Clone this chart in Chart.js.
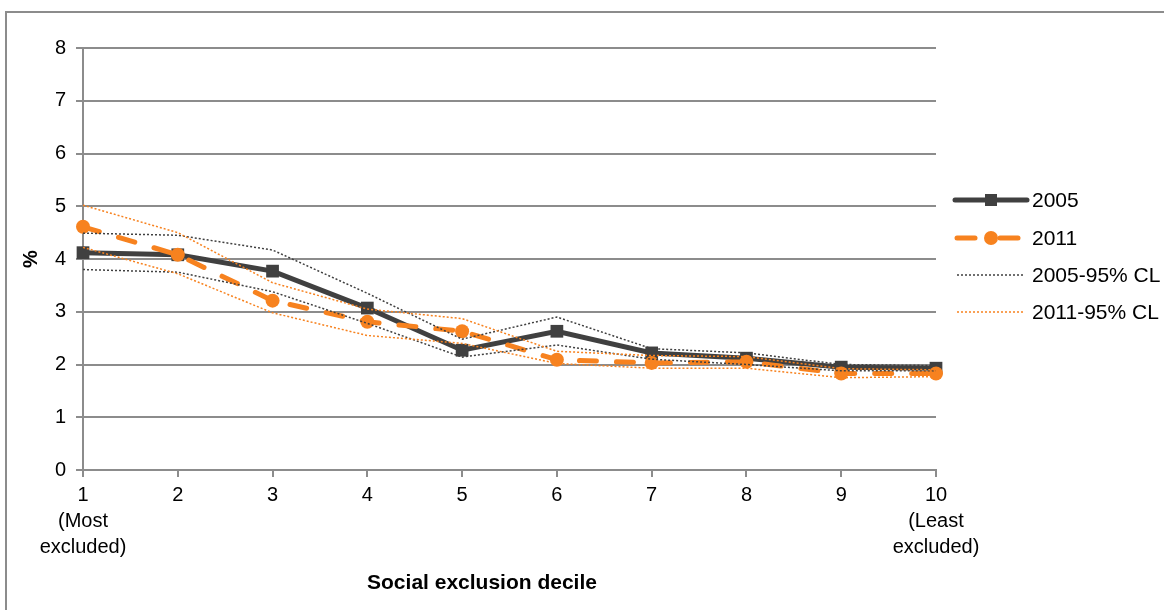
<!DOCTYPE html>
<html>
<head>
<meta charset="utf-8">
<script src="https://cdn.jsdelivr.net/npm/chart.js@4/dist/chart.umd.min.js"></script>
<style>
  html, body { margin: 0; padding: 0; background: #fff; }
  #wrap { width: 1164px; height: 610px; position: relative; }
</style>
</head>
<body>
<div id="wrap"><canvas id="chart" width="1164" height="610"></canvas></div>
<script>
const deciles = [
  ['1', '(Most', 'excluded)'], '2', '3', '4', '5', '6', '7', '8', '9',
  ['10', '(Least', 'excluded)']
];

const rate2005  = [4.12, 4.08, 3.77, 3.07, 2.27, 2.63, 2.22, 2.12, 1.95, 1.93];
const rate2011  = [4.61, 4.08, 3.21, 2.81, 2.63, 2.09, 2.03, 2.05, 1.83, 1.83];
const upper2005 = [4.49, 4.45, 4.17, 3.35, 2.48, 2.9, 2.3, 2.22, 2.0, 1.98];
const lower2005 = [3.8, 3.75, 3.38, 2.78, 2.14, 2.37, 2.1, 2.0, 1.88, 1.88];
const upper2011 = [5.02, 4.5, 3.55, 3.05, 2.87, 2.25, 2.17, 2.15, 1.92, 1.9];
const lower2011 = [4.22, 3.72, 2.98, 2.55, 2.4, 2.02, 1.93, 1.93, 1.75, 1.77];

const yTicks = [0, 1, 2, 3, 4, 5, 6, 7, 8];
const xTitle = 'Social exclusion decile';

const DARK   = '#404040';
const ORANGE = '#f7821f';
const GRID   = '#8c8c8c';
const FONT   = 'Liberation Sans, Arial, sans-serif';

// outer frame, x title and hand-drawn legend (line with marker symbols)
const framePlugin = {
  id: 'frame',
  beforeDraw(chart) {
    const ctx = chart.ctx;
    ctx.save();
    ctx.strokeStyle = GRID;
    ctx.lineWidth = 2;
    ctx.strokeRect(6, 12, 1300, 800);
    ctx.restore();
  },
  afterDraw(chart) {
    const ctx = chart.ctx;
    const x0 = 955, x1 = 1027, tx = 1032;
    const rows = [200, 238, 275, 312];
    ctx.save();

    ctx.fillStyle = '#000';
    ctx.font = 'bold 21px ' + FONT;
    ctx.textAlign = 'center';
    ctx.textBaseline = 'middle';
    ctx.fillText(xTitle, 482, 583);
    ctx.textAlign = 'left';

    ctx.lineCap = 'round';
    // 2005
    ctx.strokeStyle = DARK; ctx.lineWidth = 5;
    ctx.beginPath(); ctx.moveTo(x0, rows[0]); ctx.lineTo(x1, rows[0]); ctx.stroke();
    ctx.fillStyle = DARK;
    ctx.fillRect(985, rows[0] - 6, 12, 12);

    // 2011
    ctx.strokeStyle = ORANGE; ctx.fillStyle = ORANGE;
    ctx.beginPath(); ctx.moveTo(957, rows[1]); ctx.lineTo(975, rows[1]); ctx.stroke();
    ctx.beginPath(); ctx.moveTo(1000, rows[1]); ctx.lineTo(1018, rows[1]); ctx.stroke();
    ctx.beginPath(); ctx.arc(991, rows[1], 7, 0, Math.PI * 2); ctx.fill();

    // CL lines
    ctx.lineCap = 'butt';
    ctx.lineWidth = 1.5;
    ctx.setLineDash([2, 2]);
    ctx.strokeStyle = DARK;
    ctx.beginPath(); ctx.moveTo(957, rows[2]); ctx.lineTo(1025, rows[2]); ctx.stroke();
    ctx.strokeStyle = ORANGE;
    ctx.beginPath(); ctx.moveTo(957, rows[3]); ctx.lineTo(1025, rows[3]); ctx.stroke();
    ctx.setLineDash([]);

    ctx.fillStyle = '#000';
    ctx.font = '21px ' + FONT;
    ctx.textBaseline = 'middle';
    const names = chart.data.datasets.map(d => d.label);
    rows.forEach((y, i) => ctx.fillText(names[i], tx, y + 1));
    ctx.restore();
  }
};

new Chart(document.getElementById('chart'), {
  type: 'line',
  data: {
    labels: deciles,
    datasets: [
      {
        label: '2005', data: rate2005, order: 3,
        borderColor: DARK, backgroundColor: DARK, borderWidth: 5,
        pointStyle: 'rect', pointRadius: 9, pointBorderWidth: 0,
        tension: 0
      },
      {
        label: '2011', data: rate2011, order: 2,
        borderColor: ORANGE, backgroundColor: ORANGE, borderWidth: 5,
        borderDash: [17, 20], borderCapStyle: 'round',
        pointStyle: 'circle', pointRadius: 7, pointBorderWidth: 0,
        tension: 0
      },
      {
        label: '2005-95% CL', data: upper2005, order: 1,
        borderColor: DARK, borderWidth: 1.5, borderDash: [2, 2],
        pointRadius: 0, tension: 0
      },
      {
        label: '2011-95% CL', data: upper2011, order: 0,
        borderColor: ORANGE, borderWidth: 1.5, borderDash: [2, 2],
        pointRadius: 0, tension: 0
      },
      {
        label: '2005-95% CL lower', data: lower2005, order: 1,
        borderColor: DARK, borderWidth: 1.5, borderDash: [2, 2],
        pointRadius: 0, tension: 0
      },
      {
        label: '2011-95% CL lower', data: lower2011, order: 0,
        borderColor: ORANGE, borderWidth: 1.5, borderDash: [2, 2],
        pointRadius: 0, tension: 0
      }
    ]
  },
  options: {
    responsive: false,
    animation: false,
    layout: { padding: { left: 0, top: 48, right: 228, bottom: 0 } },
    plugins: {
      legend: { display: false },
      tooltip: { enabled: false }
    },
    scales: {
      x: {
        offset: false,
        afterFit: s => { s.height = 140; },
        grid: { drawOnChartArea: false, drawTicks: true, tickLength: 7, color: GRID, lineWidth: 2 },
        border: { color: GRID, width: 2 },
        ticks: {
          color: '#000', padding: 6, maxRotation: 0, autoSkip: false,
          font: { family: FONT, size: 20, lineHeight: 1.28 }
        }
      },
      y: {
        min: 0, max: 8,
        afterFit: s => { s.width = 83; },
        afterBuildTicks: s => { s.ticks = yTicks.map(v => ({ value: v })); },
        grid: { color: GRID, lineWidth: 2, tickLength: 7 },
        border: { color: GRID, width: 2 },
        ticks: {
          color: '#000', padding: 10,
          font: { family: FONT, size: 20 }
        },
        title: {
          display: true, text: '%', color: '#000',
          font: { family: FONT, size: 20, weight: 'bold' },
          padding: { top: 19, bottom: 0 }
        }
      }
    }
  },
  plugins: [framePlugin]
});
</script>
</body>
</html>
